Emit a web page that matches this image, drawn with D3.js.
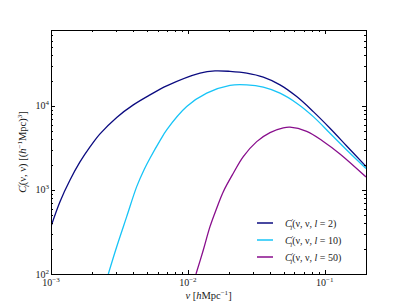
<!DOCTYPE html>
<html>
<head>
<meta charset="utf-8">
<script src="https://cdn.jsdelivr.net/npm/d3@7"></script>
<style>
  body { margin: 0; background: #fff; }
  text { font-family: "Liberation Serif", "DejaVu Serif", serif; fill: #1a1a1a; }
</style>
</head>
<body>
<div id="chart"></div>
<script>
var margin = { top: 30, right: 41, bottom: 31, left: 51 },
    outerWidth = 407,
    outerHeight = 305;
var width = outerWidth - margin.left - margin.right,
    height = outerHeight - margin.top - margin.bottom;

// values (nu in h/Mpc, C in (Mpc/h)^3)
var nuL2 = [0.001, 0.001163, 0.001377, 0.001628, 0.001927, 0.00228, 0.00302, 0.003993, 0.005285,
            0.007, 0.01226, 0.01577, 0.0203, 0.0269, 0.03554, 0.04708, 0.06233, 0.08241,
            0.1091, 0.1445, 0.2];
var cL2 = [368, 726, 1315, 2154, 3250, 4642, 7297, 10278, 13520, 17300, 24510, 26100, 25750,
           24510, 21960, 17783, 12900, 8551, 5427, 3340, 1905];

var nuL10 = [0.002622, 0.00302, 0.003572, 0.004227, 0.004803, 0.005285, 0.006255, 0.007, 0.0098,
             0.01372, 0.0203, 0.0269, 0.03554, 0.04708, 0.06233, 0.08241, 0.1091, 0.1445, 0.2];
var cL10 = [100, 211, 481, 1095, 1764, 2384, 3863, 5179, 9810, 14164, 17540, 17783, 16696,
            14164, 10768, 7458, 4732, 2994, 1803];

var nuL50 = [0.01146, 0.01296, 0.0145, 0.01623, 0.01814, 0.02146, 0.02539, 0.03181, 0.03979,
             0.04975, 0.05569, 0.07375, 0.09751, 0.1291, 0.2];
var cL50 = [100, 193, 366, 606, 954, 1580, 2491, 3758, 4810, 5470, 5577, 4971, 3779, 2683, 1428];

var seriesNames = ["2", "10", "50"];
var colors = ["#0b0b80", "#17c4f7", "#880d8c"];

var xMajor = [1e-3, 1e-2, 1e-1];
var xMajorExp = ["\u22123", "\u22122", "\u22121"];
var yMajor = [1e2, 1e3, 1e4];
var yMajorExp = ["2", "3", "4"];

var series = [
    { l: seriesNames[0], nu: nuL2, c: cL2 },
    { l: seriesNames[1], nu: nuL10, c: cL10 },
    { l: seriesNames[2], nu: nuL50, c: cL50 }
];

var x = d3.scaleLog().domain([1e-3, 0.2]).range([0, width]);
var y = d3.scaleLog().domain([1e2, 8e4]).range([height, 0]);

function minorTicks(domain) {
    var out = [];
    for (var e = -4; e <= 5; e++) {
        for (var m = 2; m <= 9; m++) {
            var v = m * Math.pow(10, e);
            if (v > domain[0] && v < domain[1]) out.push(v);
        }
    }
    return out;
}

var svg = d3.select("#chart")
    .append("svg")
    .attr("width", outerWidth)
    .attr("height", outerHeight)
    .append("g")
    .attr("transform", "translate(" + margin.left + "," + margin.top + ")");

svg.append("clipPath").attr("id", "clip")
    .append("rect").attr("width", width).attr("height", height);

var line = d3.line()
    .x(d => x(d[0]))
    .y(d => y(d[1]))
    .curve(d3.curveCatmullRom.alpha(0.5));

svg.append("g").attr("clip-path", "url(#clip)")
    .selectAll("path")
    .data(series)
    .enter().append("path")
    .attr("fill", "none")
    .attr("stroke", (d, i) => colors[i])
    .attr("stroke-width", 1.3)
    .attr("d", d => line(d.nu.map((v, i) => [v, d.c[i]])));

// ticks, pointing inward on all four sides
function tickAxis(axisFn, scale, vals, size, transform) {
    svg.append("g")
        .attr("transform", transform)
        .call(axisFn(scale).tickValues(vals).tickSize(size).tickFormat(""))
        .call(g => g.select(".domain").remove())
        .selectAll("line").attr("stroke", "#000").attr("shape-rendering", "crispEdges");
}
var xMinor = minorTicks(x.domain()), yMinor = minorTicks(y.domain());
tickAxis(d3.axisBottom, x, xMajor, -4, "translate(0," + height + ")");
tickAxis(d3.axisBottom, x, xMinor, -2, "translate(0," + height + ")");
tickAxis(d3.axisTop, x, xMajor, -4, "translate(0,0)");
tickAxis(d3.axisTop, x, xMinor, -2, "translate(0,0)");
tickAxis(d3.axisLeft, y, yMajor, -4, "translate(0,0)");
tickAxis(d3.axisLeft, y, yMinor, -2, "translate(0,0)");
tickAxis(d3.axisRight, y, yMajor, -4, "translate(" + width + ",0)");
tickAxis(d3.axisRight, y, yMinor, -2, "translate(" + width + ",0)");

svg.append("rect")
    .attr("width", width).attr("height", height)
    .attr("fill", "none").attr("stroke", "#000").attr("stroke-width", 1)
    .attr("shape-rendering", "crispEdges");

// tick labels 10^n
svg.selectAll(".xlab")
    .data(xMajor)
    .enter().append("text")
    .attr("x", d => x(d))
    .attr("y", height + 12)
    .attr("text-anchor", "middle")
    .style("font-size", "10px")
    .each(function (d, i) {
        var t = d3.select(this);
        t.append("tspan").text("10");
        t.append("tspan").attr("dy", -4).style("font-size", "7px").text(xMajorExp[i]);
    });

svg.selectAll(".ylab")
    .data(yMajor)
    .enter().append("text")
    .attr("x", -2)
    .attr("y", d => y(d) + 3.5)
    .attr("text-anchor", "end")
    .style("font-size", "10px")
    .each(function (d, i) {
        var t = d3.select(this);
        t.append("tspan").text("10");
        t.append("tspan").attr("dy", -4).style("font-size", "7px").text(yMajorExp[i]);
    });

// rich text helper: segments of [text, italic, dy, dx, size]
function rich(sel, parts, base) {
    parts.forEach(p => {
        var ts = sel.append("tspan").text(p[0])
            .style("font-style", p[1] ? "italic" : "normal")
            .style("font-size", (p[4] || base) + "px");
        if (p[2]) ts.attr("dy", p[2]);
        if (p[3]) ts.attr("dx", p[3]);
    });
}

var xl = svg.append("text")
    .attr("x", width / 2)
    .attr("y", height + 25)
    .attr("text-anchor", "middle");
rich(xl, [["\u03bd", true], [" [", false], ["h", true], ["Mpc", false],
          ["\u22121", false, -4, 0, 7], ["]", false, 4]], 10.5);

var yl = svg.append("text")
    .attr("transform", "translate(-25," + (height / 2) + ") rotate(-90)")
    .attr("text-anchor", "middle");
rich(yl, [["C", true], ["\u2032", false, -4, 0, 7], ["l", true, 7, -3, 7],
          ["(\u03bd, \u03bd) [(", false, -3], ["h", true], ["\u22121", false, -4, 0, 7],
          ["Mpc)", false, 4], ["3", false, -4, 0, 7], ["]", false, 4]], 10.5);

// legend
var legend = svg.append("g").attr("transform", "translate(206,193)");
series.forEach((s, i) => {
    var row = legend.append("g").attr("transform", "translate(0," + (i * 17) + ")");
    row.append("line")
        .attr("x1", 0).attr("x2", 16)
        .attr("stroke", colors[i]).attr("stroke-width", 1.5);
    var t = row.append("text").attr("x", 28).attr("y", 3.5);
    rich(t, [["C", true], ["\u2032", false, -4, 0, 7], ["l", true, 7, -3, 7],
             ["(\u03bd, \u03bd, ", false, -3], ["l", true], [" = " + s.l + ")", false]], 10);
});
</script>
</body>
</html>
